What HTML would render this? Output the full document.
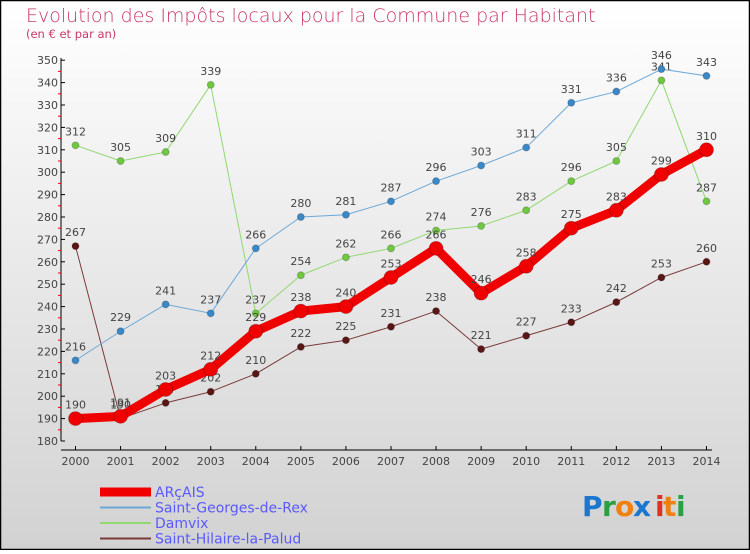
<!DOCTYPE html>
<html><head><meta charset="utf-8"><style>
html,body{margin:0;padding:0;}
body{width:750px;height:550px;overflow:hidden;font-family:"DejaVu Sans","Liberation Sans",sans-serif;}
svg text{font-family:"DejaVu Sans","Liberation Sans",sans-serif;}
</style></head><body>
<svg id="chart" width="750" height="550" xmlns="http://www.w3.org/2000/svg">
<defs><linearGradient id="bg" x1="0" y1="0" x2="0" y2="1"><stop offset="0" stop-color="#ffffff"/><stop offset="1" stop-color="#d2d2d2"/></linearGradient></defs>
<rect x="0.5" y="0.5" width="749" height="549" fill="url(#bg)" stroke="#000" stroke-width="1.5"/>
<text x="26" y="22" font-size="19" fill="#c8386a" font-weight="300">Evolution des Impôts locaux pour la Commune par Habitant</text>
<text x="26" y="38" font-size="11.5" fill="#c8386a">(en € et par an)</text>
<g id="axes"></g>
<g id="series"></g>
<g id="legend"></g>
<g font-size="28" font-weight="bold">
<text x="582" y="516" fill="#1a78d0">P</text><text x="602" y="516" fill="#2aa040">r</text><text x="615" y="516" fill="#f08010">o</text><text x="633" y="516" fill="#1a78d0">x</text><text x="655" y="516" fill="#e03020">i</text><text x="663" y="516" fill="#f08010">t</text><text x="676" y="516" fill="#2aa040">i</text>
</g>
</svg>
<script>
const years=[2000,2001,2002,2003,2004,2005,2006,2007,2008,2009,2010,2011,2012,2013,2014];
const arcais=[190,191,203,212,229,238,240,253,266,246,258,275,283,299,310];
const sgr=[216,229,241,237,266,280,281,287,296,303,311,331,336,346,343];
const damvix=[312,305,309,339,237,254,262,266,274,276,283,296,305,341,287];
const shp=[267,190,197,202,210,222,225,231,238,221,227,233,242,253,260];
const yTicks=[180,190,200,210,220,230,240,250,260,270,280,290,300,310,320,330,340,350];
const NS='http://www.w3.org/2000/svg';
const X=i=>75.5+i*45.07;
const Y=v=>441-(v-180)*2.24;
function mk(t,a,p){const e=document.createElementNS(NS,t);for(const k in a)e.setAttribute(k,a[k]);p.appendChild(e);return e;}
const ax=document.getElementById('axes');
const yl=mk('line',{x1:61,y1:58,x2:61,y2:441,stroke:'#000'},ax);


yTicks.forEach(v=>{
 mk('line',{x1:61,y1:Y(v),x2:65,y2:Y(v),stroke:'#000'},ax);
 if(v<350) mk('line',{x1:58,y1:Y(v+5),x2:61,y2:Y(v+5),stroke:'#e00'},ax);
 const t=mk('text',{x:58,y:Y(v)+4,'text-anchor':'end','font-size':11,fill:'#444'},ax);
 
 
 t.textContent=v;
});
const xl=mk('line',{x1:61,y1:450,x2:712,y2:450,stroke:'#000'},ax);


years.forEach((y,i)=>{
 mk('line',{x1:X(i),y1:446,x2:X(i),y2:450,stroke:'#000'},ax);
 const t=mk('text',{x:X(i),y:465,'text-anchor':'middle','font-size':11,fill:'#444'},ax);
 
 
 t.textContent=y;
});
const sg=document.getElementById('series');
function draw(name,data,color,w,r,mcol){
 const g=mk('g',{},sg);
 
 
 mk('polyline',{points:data.map((v,i)=>X(i)+','+Y(v)).join(' '),fill:'none',stroke:color,'stroke-width':w,'stroke-linejoin':'round'},g);
 data.forEach((v,i)=>{
  const c=mk('circle',{cx:X(i),cy:Y(v),r:r,fill:mcol,stroke:'rgba(0,0,0,0.2)'},g);
  
  
  const t=mk('text',{x:X(i),y:Y(v)-10,'text-anchor':'middle','font-size':11,fill:'#444'},g);
  
  
  t.textContent=v;
 });
}
draw('saint-hilaire',shp,'#7a3a3a',1,3.5,'#5a1515');
draw('damvix',damvix,'#90d870',1,3.5,'#70c840');
draw('saint-georges',sgr,'#6aa8d8',1,3.5,'#3a88c8');
draw('arcais',arcais,'#f00000',9,7,'#f00000');
const lg=document.getElementById('legend');
const items=[['ARçAIS','#f00000',9],['Saint-Georges-de-Rex','#6aa8d8',2],['Damvix','#90d870',2],['Saint-Hilaire-la-Palud','#7a3a3a',2]];
items.forEach((it,i)=>{
 const y=492+i*15.5;
 const g=mk('g',{},lg);
 
 
 mk('line',{x1:100,y1:y,x2:151,y2:y,stroke:it[1],'stroke-width':it[2]},g);
 const t=mk('text',{x:155,y:y+5,'font-size':14,fill:'#5a5aff'},g);
 t.textContent=it[0];
});
</script>
</body></html>
